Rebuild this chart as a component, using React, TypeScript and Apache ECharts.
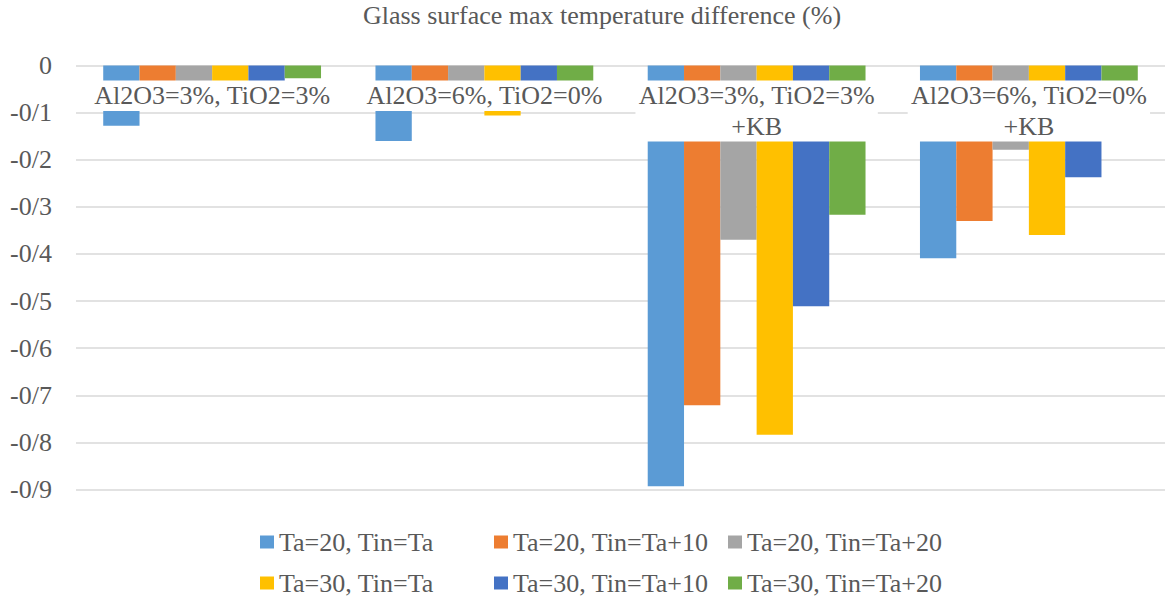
import React, { useEffect, useRef } from "react";
import * as echarts from "echarts";

// Glass-surface maximum temperature difference per mixture, for six inlet conditions
const categories = [
  "Al2O3=3%, TiO2=3%",
  "Al2O3=6%, TiO2=0%",
  "Al2O3=3%, TiO2=3%\n+KB",
  "Al2O3=6%, TiO2=0%\n+KB",
];

const seriesNames = [
  "Ta=20, Tin=Ta",
  "Ta=20, Tin=Ta+10",
  "Ta=20, Tin=Ta+20",
  "Ta=30, Tin=Ta",
  "Ta=30, Tin=Ta+10",
  "Ta=30, Tin=Ta+20",
];

const ta20TinTa = [-0.128, -0.16, -0.893, -0.409];
const ta20TinTa10 = [-0.06, -0.08, -0.721, -0.33];
const ta20TinTa20 = [-0.04, -0.05, -0.37, -0.179];
const ta30TinTa = [-0.08, -0.106, -0.784, -0.36];
const ta30TinTa10 = [-0.05, -0.07, -0.511, -0.237];
const ta30TinTa20 = [-0.027, -0.04, -0.317, -0.1];

const seriesValues = [
  ta20TinTa,
  ta20TinTa10,
  ta20TinTa20,
  ta30TinTa,
  ta30TinTa10,
  ta30TinTa20,
];

const palette = ["#5B9BD5", "#ED7D31", "#A5A5A5", "#FFC000", "#4472C4", "#70AD47"];

const FONT = "Liberation Serif";
const TEXT_COLOR = "#595959";

export default function App() {
  const ref = useRef<HTMLDivElement>(null);

  useEffect(() => {
    if (!ref.current) return;
    const chart = echarts.init(ref.current, undefined, { renderer: "svg" });

    chart.setOption({
      animation: false,
      backgroundColor: "#ffffff",
      color: palette,
      textStyle: { fontFamily: FONT },
      title: {
        text: "Glass surface max temperature difference (%)",
        left: 597,
        top: -3,
        textAlign: "center",
        textStyle: {
          fontFamily: FONT,
          fontSize: 26,
          fontWeight: "normal",
          color: TEXT_COLOR,
        },
      },
      legend: {
        left: 255,
        top: 523,
        width: 700,
        itemWidth: 14,
        itemHeight: 13,
        itemGap: 13,
        icon: "rect",
        textStyle: {
          fontFamily: FONT,
          fontSize: 26,
          lineHeight: 28,
          width: 202,
          overflow: "none",
          color: TEXT_COLOR,
        },
        data: seriesNames,
      },
      grid: {
        left: 76,
        right: 0,
        top: 65.5,
        bottom: 110.5,
        containLabel: false,
      },
      xAxis: {
        type: "category",
        data: categories,
        position: "top",
        z: 10,
        axisLine: { show: false },
        axisTick: { show: false },
        axisLabel: {
          inside: true,
          interval: 0,
          margin: 15,
          fontFamily: FONT,
          fontSize: 26,
          lineHeight: 30.5,
          color: TEXT_COLOR,
          verticalAlign: "top",
          backgroundColor: "#ffffff",
          padding: [0, 3],
        },
      },
      yAxis: {
        type: "value",
        min: -0.9,
        max: 0,
        interval: 0.1,
        axisLine: { show: false },
        axisTick: { show: false },
        splitLine: { lineStyle: { color: "#d9d9d9", width: 1.5 } },
        axisLabel: {
          margin: 24,
          fontFamily: FONT,
          fontSize: 26,
          color: TEXT_COLOR,
          formatter: (v: number) =>
            Math.abs(v) < 1e-9 ? "0" : v.toFixed(1).replace(".", "/"),
        },
      },
      series: seriesNames.map((name, i) => ({
        name,
        type: "bar",
        data: seriesValues[i],
        barGap: "0%",
        barCategoryGap: "20%",
        itemStyle: { color: palette[i] },
      })),
    });

    return () => chart.dispose();
  }, []);

  return (
    <div
      ref={ref}
      style={{
        position: "fixed",
        left: 0,
        top: 0,
        width: 1165,
        height: 600,
        background: "#ffffff",
      }}
    />
  );
}
